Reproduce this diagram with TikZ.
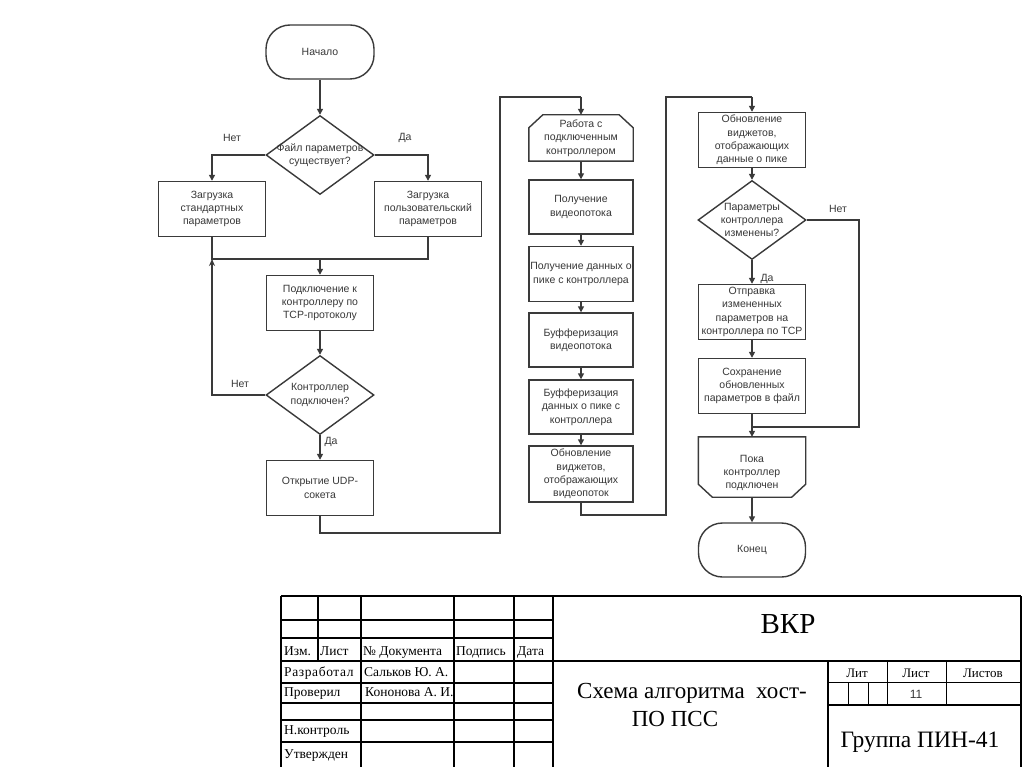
\documentclass[tikz,border=0pt]{standalone}
\usepackage{fontspec}
\setmainfont{Liberation Serif}
\newfontfamily\flowfont{Liberation Sans}
\usetikzlibrary{shapes.geometric,arrows.meta}
\definecolor{fc}{HTML}{3A3A3A}
\definecolor{ft}{HTML}{383838}
\begin{document}
\begin{tikzpicture}[x=1pt,y=-1pt,
  ln/.style={draw=fc,line width=1.4pt},
  arr/.style={ln,-{Triangle[length=6pt,width=6pt]}},
  uparr/.style={ln,-{Stealth[length=7pt,width=6pt]}},
  fl/.style={font=\flowfont\fontsize{10.5}{13.3}\selectfont,text=ft},
  pbox/.style={fl,ln,rectangle,minimum width=107pt,minimum height=55pt,inner sep=0pt,align=center},
  cbox/.style={fl,rectangle,minimum width=104pt,minimum height=55pt,inner sep=0pt,align=center},
  term/.style={fl,ln,rectangle,rounded corners=24pt,minimum width=108pt,minimum height=54pt,inner sep=0pt,align=center},
  dia/.style={ln,diamond,inner sep=0pt,minimum width=108pt,minimum height=79pt},
  dtext/.style={fl,align=center},
  lab/.style={fl,inner sep=1pt},
  tb/.style={line width=1.5pt,black},
  tbt/.style={line width=0.9pt,black},
  tsm/.style={font=\fontsize{13.5}{15}\selectfont,anchor=west,inner sep=0pt,text height=9.5pt,text depth=3pt},
]
\useasboundingbox (0,0) rectangle (1024,767);
\fill[white] (0,0) rectangle (1024,767);

% ---------- column 1 ----------
\node[term] (start) at (320,52) {Начало};
\node[dia,label={[dtext]center:Файл параметров\\существует?}] (d1) at (320,155) {};
\node[pbox] (b1) at (212,209) {Загрузка\\стандартных\\параметров};
\node[pbox] (b2) at (428,209) {Загрузка\\пользовательский\\параметров};
\node[pbox] (b3) at (320,303) {Подключение к\\контроллеру по\\TCP-протоколу};
\node[dia,label={[dtext]center:Контроллер\\подключен?}] (d2) at (320,395) {};
\node[pbox] (b4) at (320,488) {Открытие UDP-\\сокета};

\node[lab] (l1) at (232,138) {Нет};
\node[lab] (l2) at (405,138) {Да};
\node[lab] (l3) at (240,384) {Нет};
\node[lab] (l4) at (331,442) {Да};

\coordinate (jl) at (212,259);
\coordinate (jm) at (320,259);
\coordinate (jr) at (428,259);

\draw[arr] (start) -- (d1);
\draw[arr] (d1.west) -| (b1.north);
\draw[arr] (d1.east) -| (b2.north);
\draw[ln] (b1.south) -- (jl) -- (jr) -- (b2.south);
\draw[arr] (jm) -- (b3.north);
\draw[arr] (b3) -- (d2);
\draw[uparr] (d2.west) -| (jl);
\draw[arr] (d2) -- (b4);

% ---------- column 2 ----------
\node[cbox,minimum height=46pt] (m1) at (581,138) {Работа с\\подключенным\\контроллером};
\draw[ln] (m1.south west) -- ([yshift=-13pt]m1.north west) -- ([xshift=14pt]m1.north west)
  -- ([xshift=-14pt]m1.north east) -- ([yshift=-13pt]m1.north east) -- (m1.south east) -- cycle;
\node[pbox,minimum width=104pt,minimum height=54pt] (m2) at (581,207) {Получение\\видеопотока};
\node[pbox,minimum width=104pt,minimum height=55pt] (m3) at (581,274) {Получение данных о\\пике с контроллера};
\node[pbox,minimum width=104pt,minimum height=54pt] (m4) at (581,340) {Буфферизация\\видеопотока};
\node[pbox,minimum width=104pt,minimum height=54pt] (m5) at (581,407) {Буфферизация\\данных о пике с\\контроллера};
\node[pbox,minimum width=104pt,minimum height=56pt] (m6) at (581,474) {Обновление\\виджетов,\\отображающих\\видеопоток};

\coordinate (c1a) at (320,533);
\coordinate (c1b) at (500,533);
\coordinate (c1c) at (500,97);
\coordinate (c1d) at (581,97);
\draw[ln] (b4.south) -- (c1a) -- (c1b) -- (c1c) -- (c1d);
\draw[arr] (c1d) -- (m1.north);
\draw[arr] (m1) -- (m2);
\draw[arr] (m2) -- (m3);
\draw[arr] (m3) -- (m4);
\draw[arr] (m4) -- (m5);
\draw[arr] (m5) -- (m6);

% ---------- column 3 ----------
\node[pbox] (r1) at (752,140) {Обновление\\виджетов,\\отображающих\\данные о пике};
\node[dia,label={[dtext]center:Параметры\\контроллера\\изменены?}] (d3) at (752,220) {};
\node[pbox] (r2) at (752,312) {Отправка\\измененных\\параметров на\\контроллера по TCP};
\node[pbox] (r3) at (752,386) {Сохранение\\обновленных\\параметров в файл};
\node[cbox,minimum width=107pt,minimum height=60pt,
  label={[fl,align=center,yshift=-6pt]center:Пока\\контроллер\\подключен}] (r4) at (752,467) {};
\draw[ln] (r4.north west) -- (r4.north east) -- ([yshift=13pt]r4.south east) -- ([xshift=-14pt]r4.south east)
  -- ([xshift=14pt]r4.south west) -- ([yshift=13pt]r4.south west) -- cycle;
\node[term,minimum width=107pt] (fin) at (752,550) {Конец};

\node[lab] (l5) at (838,209) {Нет};
\node[lab] (l6) at (767,279) {Да};

\coordinate (c2a) at (581,515);
\coordinate (c2b) at (666,515);
\coordinate (c2c) at (666,97);
\coordinate (c2d) at (752,97);
\coordinate (nr) at (859,220);
\coordinate (nb) at (859,427);
\coordinate (mj) at (752,427);
\draw[ln] (m6.south) -- (c2a) -- (c2b) -- (c2c) -- (c2d);
\draw[arr] (c2d) -- (r1.north);
\draw[arr] (r1) -- (d3);
\draw[arr] (d3) -- (r2);
\draw[arr] (r2) -- (r3);
\draw[ln] (r3.south) -- (mj);
\draw[ln] (d3.east) -- (nr) -- (nb) -- (mj);
\draw[arr] (mj) -- (r4.north);
\draw[arr] (r4) -- (fin);

% ---------- title block ----------
\draw[tb] (281,596) -- (1021,596);
\draw[tb] (281,596) -- (281,767);
\draw[tb] (553,596) -- (553,767);
\draw[tb] (1021,596) -- (1021,767);
\foreach \yy in {620,638,661,683,703,720,742} \draw[tb] (281,\yy) -- (553,\yy);
\draw[tb] (318,596) -- (318,661);
\foreach \xx in {361,454,514} \draw[tb] (\xx,596) -- (\xx,767);
\draw[tb] (553,661) -- (1021,661);
\draw[tb] (828,661) -- (828,767);
\draw[tbt] (828,682) -- (1021,682);
\draw[tb] (828,705) -- (1021,705);
\draw[tbt] (887,661) -- (887,705);
\draw[tbt] (946,661) -- (946,705);
\draw[tbt] (848,682) -- (848,705);
\draw[tbt] (868,682) -- (868,705);

\node[tsm] (t1) at (284,652) {Изм.};
\node[tsm] (t2) at (320,652) {Лист};
\node[tsm] (t3) at (363,652) {№ Документа};
\node[tsm] (t4) at (456,652) {Подпись};
\node[tsm] (t5) at (517,652) {Дата};
\node[tsm] (t6) at (284,673) {\addfontfeature{LetterSpace=4.5}Разработал};
\node[tsm] (t7) at (364,673) {Сальков Ю. А.};
\node[tsm] (t8) at (284,693) {Проверил};
\node[tsm] (t9) at (365,693) {Кононова А. И.};
\node[tsm] (t10) at (284,731) {Н.контроль};
\node[tsm] (t11) at (284,755) {Утвержден};

\node[font=\fontsize{29}{30}\selectfont,inner sep=0pt] (vkr) at (788,624) {ВКР};
\node[font=\fontsize{23}{24}\selectfont,inner sep=0pt] (sh1) at (692,693) {Схема алгоритма\ \ хост-};
\node[font=\fontsize{23}{24}\selectfont,inner sep=0pt] (sh2) at (675,719) {ПО ПСС};
\node[font=\fontsize{13}{14}\selectfont,inner sep=0pt] (lit) at (857,673) {Лит};
\node[font=\fontsize{13}{14}\selectfont,inner sep=0pt] (lst) at (916,673) {Лист};
\node[font=\fontsize{13}{14}\selectfont,inner sep=0pt] (lsts) at (983,673) {Листов};
\node[font=\flowfont\fontsize{12}{13}\selectfont,text=ft,inner sep=0pt] (n11) at (916,694) {11};
\node[font=\fontsize{23.5}{24}\selectfont,inner sep=0pt] (grp) at (920,742) {Группа ПИН-41};
\end{tikzpicture}
\end{document}
